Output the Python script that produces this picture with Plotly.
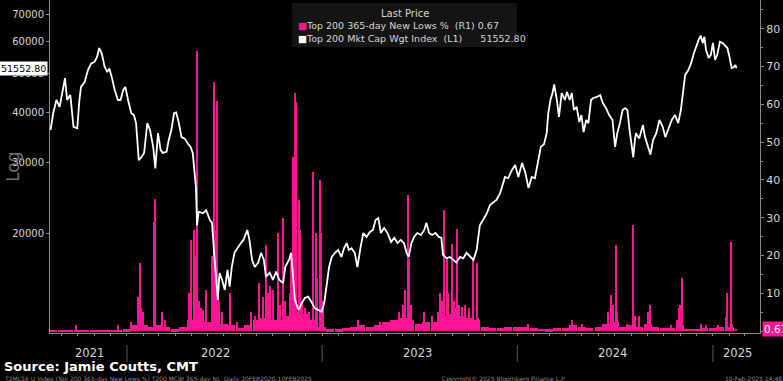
import math
import plotly.graph_objects as go

# ---------------- data ----------------
INDEX_DATES = [
"2021-08-11","2021-08-16","2021-08-22","2021-08-28","2021-09-03","2021-09-07","2021-09-11","2021-09-17","2021-09-23","2021-09-30",
"2021-10-04","2021-10-07","2021-10-14","2021-10-20","2021-10-26","2021-11-01","2021-11-06","2021-11-10","2021-11-15","2021-11-20",
"2021-11-25","2021-11-29","2021-12-04","2021-12-09","2021-12-15","2021-12-20","2021-12-25","2021-12-29","2022-01-03","2022-01-09",
"2022-01-14","2022-01-18","2022-01-23","2022-01-28","2022-02-02","2022-02-08","2022-02-13","2022-02-19","2022-02-23","2022-02-28",
"2022-03-05","2022-03-09","2022-03-16","2022-03-20","2022-03-25","2022-03-30","2022-04-03","2022-04-08","2022-04-13","2022-04-19",
"2022-04-25","2022-04-30","2022-05-04","2022-05-08","2022-05-10","2022-05-12","2022-05-15","2022-05-23","2022-05-29","2022-06-05",
"2022-06-09","2022-06-13","2022-06-17","2022-06-20","2022-06-23","2022-06-28","2022-07-03","2022-07-08","2022-07-12","2022-07-16",
"2022-07-21","2022-07-28","2022-08-02","2022-08-07","2022-08-14","2022-08-18","2022-08-23","2022-08-28","2022-09-03","2022-09-09",
"2022-09-14","2022-09-18","2022-09-25","2022-10-01","2022-10-07","2022-10-13","2022-10-20","2022-10-24","2022-10-28","2022-10-31",
"2022-11-04","2022-11-07","2022-11-11","2022-11-18","2022-11-24","2022-11-30","2022-12-06","2022-12-12","2022-12-18","2022-12-25",
"2022-12-31","2023-01-05","2023-01-09","2023-01-14","2023-01-19","2023-01-25","2023-01-31","2023-02-06","2023-02-11","2023-02-16",
"2023-02-20","2023-02-25","2023-03-03","2023-03-08","2023-03-14","2023-03-19","2023-03-25","2023-03-31","2023-04-06","2023-04-11",
"2023-04-16","2023-04-21","2023-04-27","2023-05-03","2023-05-10","2023-05-16","2023-05-22","2023-05-28","2023-06-03","2023-06-08",
"2023-06-12","2023-06-17","2023-06-22","2023-06-28","2023-07-05","2023-07-11","2023-07-15","2023-07-20","2023-07-26","2023-08-01",
"2023-08-07","2023-08-12","2023-08-15","2023-08-22","2023-08-28","2023-09-03","2023-09-09","2023-09-16","2023-09-22","2023-09-28",
"2023-10-05","2023-10-11","2023-10-17","2023-10-23","2023-10-29","2023-11-05","2023-11-11","2023-11-17","2023-11-23","2023-11-30",
"2023-12-04","2023-12-09","2023-12-15","2023-12-22","2023-12-28","2024-01-03","2024-01-10","2024-01-16","2024-01-22","2024-01-28",
"2024-02-03","2024-02-09","2024-02-14","2024-02-20","2024-02-25","2024-02-28","2024-03-03","2024-03-07","2024-03-10","2024-03-15",
"2024-03-19","2024-03-24","2024-03-30","2024-04-03","2024-04-08","2024-04-12","2024-04-16","2024-04-21","2024-04-26","2024-04-30",
"2024-05-04","2024-05-09","2024-05-13","2024-05-18","2024-05-22","2024-05-29","2024-06-04","2024-06-09","2024-06-15","2024-06-21",
"2024-06-27","2024-07-02","2024-07-06","2024-07-11","2024-07-16","2024-07-21","2024-07-25","2024-07-29","2024-08-05","2024-08-08",
"2024-08-10","2024-08-16","2024-08-23","2024-08-27","2024-08-31","2024-09-06","2024-09-11","2024-09-17","2024-09-23","2024-09-29",
"2024-10-04","2024-10-09","2024-10-16","2024-10-22","2024-10-28","2024-11-02","2024-11-06","2024-11-10","2024-11-16","2024-11-21",
"2024-11-26","2024-11-30","2024-12-05","2024-12-09","2024-12-13","2024-12-16","2024-12-19","2024-12-24","2024-12-28","2025-01-01",
"2025-01-05","2025-01-09","2025-01-14","2025-01-19","2025-01-24","2025-01-28","2025-02-01","2025-02-05","2025-02-09","2025-02-12",
"2025-02-14",
]
INDEX_VALUES = [
36150,39800,42950,41300,45500,48700,42950,44200,36800,36500,
43000,46300,47700,51000,53000,53400,55000,57900,56000,52100,
50400,51500,48700,45500,42950,42950,45500,46300,42950,39800,
39400,37600,30400,30900,31700,37600,36150,32800,29000,35500,
32200,31700,31900,34100,36150,39800,40000,37600,34700,34400,
33400,32800,31700,28300,26000,20900,22600,22400,22800,21560,
21200,17850,15270,13620,15900,15270,14420,16180,14700,16450,
17850,18470,18880,19220,20350,19220,17130,16450,16830,17850,
17130,15550,15920,15270,16020,15270,14990,16450,16830,17130,
17850,16200,13620,12850,13380,13780,13870,13460,13000,12850,
12720,13380,14700,16450,17430,17850,18150,17430,18330,18880,
18150,18330,17850,16450,18470,20000,19560,20100,20350,21560,
21800,20000,20600,20000,19000,19450,18880,19220,18880,17850,
17430,18880,19560,20000,19780,20350,21200,20000,19780,20000,
19560,19450,17650,17300,17430,17130,16900,17430,17300,17850,
17430,17130,18150,20900,21560,22400,23500,23800,24180,25150,
26360,27600,27400,28730,29580,27600,29900,28300,25900,27600,
27400,29900,32800,33300,35500,39800,42950,44700,47000,42950,
39000,44700,42950,44950,42950,44700,40550,41300,37850,39400,
35700,38300,37600,42950,43450,43700,44200,42200,41000,39400,
38300,32800,35500,37600,40550,41000,40550,36150,30900,34130,
35500,34400,37200,34700,33400,31400,34130,35500,38300,36800,
34700,36150,38300,39400,37600,40550,44700,49600,51000,53000,
56000,58200,60600,62200,59600,61800,57250,54700,55600,59600,
54050,55600,60000,59600,58800,57900,55000,51550,51900,52500,
51552.80,
]

# background level of the New Lows % series (half-monthly readings)
FLOOR_DATES = [
"2021-08-15","2021-09-01","2021-09-15","2021-10-01","2021-10-15","2021-11-01","2021-11-15","2021-12-01","2021-12-15",
"2022-01-01","2022-01-15","2022-02-01","2022-02-15","2022-03-01","2022-03-15","2022-04-01","2022-04-15","2022-05-01","2022-05-15",
"2022-06-01","2022-06-15","2022-07-01","2022-07-15","2022-08-01","2022-08-15","2022-09-01","2022-09-15","2022-10-01","2022-10-15",
"2022-11-01","2022-11-15","2022-12-01","2022-12-15",
"2023-01-01","2023-01-15","2023-02-01","2023-02-15","2023-03-01","2023-03-15","2023-04-01","2023-04-15","2023-05-01","2023-05-15",
"2023-06-01","2023-06-15","2023-07-01","2023-07-15","2023-08-01","2023-08-15","2023-09-01","2023-09-15","2023-10-01","2023-10-15",
"2023-11-01","2023-11-15","2023-12-01","2023-12-15",
"2024-01-01","2024-01-15","2024-02-01","2024-02-15","2024-03-01","2024-03-15","2024-04-01","2024-04-15","2024-05-01","2024-05-15",
"2024-06-01","2024-06-15","2024-07-01","2024-07-15","2024-08-01","2024-08-15","2024-09-01","2024-09-15","2024-10-01","2024-10-15",
"2024-11-01","2024-11-15","2024-12-01","2024-12-15","2025-01-01","2025-01-15","2025-02-01",
]
FLOOR_VALUES = [
0.3,0.3,0.3,0.4,0.3,0.3,0.3,0.3,0.4,
0.5,1.5,1.5,1.0,1.5,1.0,0.5,1.0,3.0,4.0,
2.5,4.0,2.0,1.5,0.8,1.5,3.0,3.5,3.0,3.0,
4.0,5.0,4.5,3.0,
1.0,0.5,0.5,0.8,1.2,1.5,1.2,1.5,2.5,3.0,
3.5,3.0,2.0,2.5,2.5,4.0,4.5,4.0,3.5,3.0,
1.0,0.8,0.8,1.0,
1.2,1.0,0.7,0.6,0.5,0.7,0.8,1.5,1.2,0.8,
1.0,2.0,2.5,1.0,1.5,1.2,2.0,1.0,0.7,0.8,
1.5,0.6,0.6,0.8,0.8,1.0,1.2,
]

SPIKE_DATES = [
"2021-09-28","2021-12-15","2022-01-08","2022-01-22","2022-01-25","2022-01-27","2022-01-31","2022-02-21","2022-02-23","2022-03-08",
"2022-03-14","2022-04-27","2022-04-30","2022-05-06","2022-05-09","2022-05-12","2022-05-15","2022-05-19","2022-05-24","2022-05-29",
"2022-06-10","2022-06-13","2022-06-15","2022-06-18","2022-06-20","2022-06-23","2022-06-27","2022-07-12","2022-07-26","2022-08-22",
"2022-08-28","2022-09-06","2022-09-13","2022-09-18","2022-09-21","2022-09-26","2022-10-02","2022-10-11","2022-10-14","2022-10-20",
"2022-10-24","2022-11-02","2022-11-04","2022-11-08","2022-11-11","2022-11-14","2022-11-18","2022-11-20","2022-11-24","2022-12-01",
"2022-12-08","2022-12-16","2022-12-20","2022-12-23","2022-12-28","2022-12-30","2023-01-02","2023-03-10","2023-04-20","2023-05-10",
"2023-05-25","2023-06-01","2023-06-05","2023-06-10","2023-06-12","2023-06-16","2023-07-10","2023-07-25","2023-08-05","2023-08-10",
"2023-08-14","2023-08-17","2023-08-22","2023-08-25","2023-09-01","2023-09-05","2023-09-07","2023-09-11","2023-09-15","2023-09-20",
"2023-09-26","2023-10-02","2023-10-11","2023-10-17","2023-10-20","2024-01-22","2024-04-13","2024-05-01","2024-06-18","2024-06-24",
"2024-06-28","2024-07-04","2024-07-06","2024-07-25","2024-08-05","2024-08-08","2024-08-15","2024-09-01","2024-09-06","2024-10-15",
"2024-10-25","2024-10-29","2024-11-01","2024-11-04","2024-12-10","2024-12-20","2025-01-10","2025-01-25","2025-01-28","2025-02-03",
"2025-02-06","2025-02-14",
]
SPIKE_VALUES = [
1.6,1.6,2.5,9,18,6,5,29,35,5,
3,10,24,26.7,20,74,8,6,5.5,11,
20,66,26.7,61,14,8,5,10,2.5,5,
4,12.7,9,22.7,10,12,11,26,7,30,
8,10,20,46,63,60.6,34.7,26.7,8,6,
5,42,26,14,40,26,8,3,2.5,3,
5,7,11,36,19,7,5,4,5,10,
8,32,19,10,23,8,6,27,7,6.5,
7,6,18.8,18,3.5,2,3,2,5,9.5,
7,22.7,5,2,28,4,4,5,7,1.5,
3,6,7,14,2,1.5,1.5,3.8,10,23.5,
2,0.67,
]

LEFT_TICKS = [20000, 30000, 40000, 50000, 60000, 70000]
RIGHT_TICKS = [10, 20, 30, 40, 50, 60, 70, 80]
YEAR_LABELS = ["2021", "2022", "2023", "2024", "2025"]
YEAR_LABEL_DATES = ["2021-10-22", "2022-06-15", "2023-06-29", "2024-06-28", "2025-02-15"]
YEAR_BOUNDARIES = ["2022-01-01", "2023-01-01", "2024-01-01", "2025-01-01"]
LAST_INDEX = 51552.80
LAST_LOWS = 0.67
SERIES_LOWS = "Top 200 365-day New Lows %"
SERIES_INDEX = "Top 200 Mkt Cap Wgt Index"

# ---------------- style ----------------
PINK = "#ff1493"
AXIS = "#8a8a8a"
TXT = "#d6d6d6"
DAY_MS = 86400000
NB = "\u00a0"

fig = go.Figure()

fig.add_trace(go.Bar(
    x=FLOOR_DATES, y=FLOOR_VALUES, width=[15 * DAY_MS] * len(FLOOR_DATES),
    marker=dict(color=PINK, line=dict(width=0)), yaxis="y", showlegend=False,
    hoverinfo="skip"))
fig.add_trace(go.Bar(
    x=SPIKE_DATES, y=SPIKE_VALUES, width=[2.2 * DAY_MS] * len(SPIKE_DATES),
    marker=dict(color=PINK, line=dict(width=0)), yaxis="y", showlegend=False,
    name=SERIES_LOWS))
fig.add_trace(go.Scatter(
    x=INDEX_DATES, y=INDEX_VALUES, mode="lines", yaxis="y2",
    line=dict(color="white", width=1.8), showlegend=False, name=SERIES_INDEX))

font_main = "DejaVu Sans"

fig.update_layout(
    width=783, height=381,
    margin=dict(l=50, r=23, t=0, b=48),
    paper_bgcolor="black", plot_bgcolor="black",
    barmode="overlay", bargap=0,
    font=dict(family=font_main, color=TXT, size=10),
    xaxis=dict(
        type="date", range=["2021-08-10", "2025-03-30"],
        showgrid=False, zeroline=False, showline=True, linecolor=AXIS, linewidth=1,
        ticks="outside", tickcolor=AXIS, ticklen=2, dtick="M1", tick0="2021-01-01",
        showticklabels=False),
    yaxis=dict(
        side="right", range=[-0.5, 87.6], showgrid=False, zeroline=False,
        showline=True, linecolor=AXIS, linewidth=1,
        ticks="outside", tickcolor=AXIS, ticklen=3, tickvals=RIGHT_TICKS,
        ticktext=[str(v) for v in RIGHT_TICKS],
        tickfont=dict(color=TXT, size=11, family=font_main),
        minor=dict(dtick=5, tick0=5, ticks="outside", ticklen=2, tickcolor=AXIS)),
    yaxis2=dict(
        type="log", side="left", overlaying="y",
        range=[4.0515, 4.8825], showgrid=False, zeroline=False,
        showline=True, linecolor=AXIS, linewidth=1,
        ticks="outside", tickcolor=AXIS, ticklen=3, tickvals=LEFT_TICKS,
        ticktext=[str(v) for v in LEFT_TICKS],
        tickfont=dict(color=TXT, size=10, family=font_main)),
)

annotations = []
shapes = []

# year labels and separators
for lab, d in zip(YEAR_LABELS, YEAR_LABEL_DATES):
    annotations.append(dict(x=d, y=-0.06, xref="x", yref="paper", text=lab, showarrow=False,
                            font=dict(color=TXT, size=11.5, family=font_main),
                            xanchor="center", yanchor="middle"))
for d in YEAR_BOUNDARIES:
    shapes.append(dict(type="line", xref="x", yref="paper", x0=d, x1=d, y0=-0.036, y1=-0.087,
                       line=dict(color="#5a5a5a", width=1)))

# "Log" label
annotations.append(dict(x=-0.053, y=0.5, xref="paper", yref="paper", text="Log", textangle=-90,
                        showarrow=False, font=dict(color="#6e6e6e", size=17, family=font_main),
                        xanchor="center", yanchor="middle"))

# last value tags
annotations.append(dict(x=0, y=math.log10(LAST_INDEX), xref="paper", yref="y2",
                        text=f"{LAST_INDEX:.2f}", showarrow=False, xanchor="right", yanchor="middle",
                        xshift=-2, bgcolor="white", borderpad=1,
                        font=dict(color="black", size=9.5, family=font_main)))
annotations.append(dict(x=1, y=LAST_LOWS, xref="paper", yref="y",
                        text=f"{LAST_LOWS:.2f}", showarrow=False, xanchor="left", yanchor="middle",
                        xshift=2, bgcolor=PINK, borderpad=1,
                        font=dict(color="white", size=10.5, family=font_main)))

# legend box
shapes.append(dict(type="rect", xref="paper", yref="paper", x0=0.3408, x1=0.6577, y0=0.859, y1=0.991,
                   fillcolor="#141414", line=dict(width=0), layer="above"))
annotations.append(dict(x=0.5, y=0.958, xref="paper", yref="paper", text="Last Price", showarrow=False,
                        xanchor="center", yanchor="middle", font=dict(color=TXT, size=10, family=font_main)))
annotations.append(dict(x=0.347, y=0.922, xref="paper", yref="paper", showarrow=False,
                        text=f"<span style='color:{PINK}'>■</span>{SERIES_LOWS}{NB*2}(R1){NB}{LAST_LOWS:.2f}",
                        xanchor="left", yanchor="middle", font=dict(color=TXT, size=9.5, family=font_main)))
annotations.append(dict(x=0.347, y=0.883, xref="paper", yref="paper", showarrow=False,
                        text=f"<span style='color:white'>■</span>{SERIES_INDEX}{NB*2}(L1){NB*6}{LAST_INDEX:.2f}",
                        xanchor="left", yanchor="middle", font=dict(color=TXT, size=9.5, family=font_main)))

# source and footer
annotations.append(dict(x=-0.068, y=-0.102, xref="paper", yref="paper", text="<b>Source: Jamie Coutts, CMT</b>",
                        showarrow=False, xanchor="left", yanchor="middle",
                        font=dict(color="white", size=13, family=font_main)))
annotations.append(dict(x=-0.068, y=-0.137, xref="paper", yref="paper",
                        text="T2MLSX U Index (Top 200 365-day New Lows %) T200 MCW 365-day NL  Daily 20FEB2020-10FEB2025",
                        showarrow=False, xanchor="left", yanchor="middle",
                        font=dict(color="#8c8c8c", size=6, family=font_main)))
annotations.append(dict(x=0.64, y=-0.137, xref="paper", yref="paper",
                        text="Copyright© 2025 Bloomberg Finance L.P.",
                        showarrow=False, xanchor="center", yanchor="middle",
                        font=dict(color="#8c8c8c", size=6, family=font_main)))
annotations.append(dict(x=0.948, y=-0.137, xref="paper", yref="paper",
                        text="10-Feb-2025 14:48:03",
                        showarrow=False, xanchor="left", yanchor="middle",
                        font=dict(color="#8c8c8c", size=6, family=font_main)))

fig.update_layout(annotations=annotations, shapes=shapes)
fig.write_html("out.html", config={"displayModeBar": False},
               post_script="document.body.style.margin='0';document.body.style.background='black';")
